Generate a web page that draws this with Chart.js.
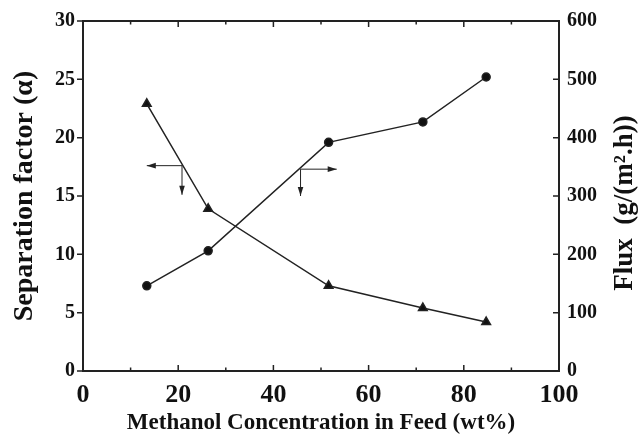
<!DOCTYPE html>
<html>
<head>
<meta charset="utf-8">
<script src="https://cdn.jsdelivr.net/npm/chart.js@4.4.0/dist/chart.umd.min.js"></script>
<style>
  html, body { margin: 0; padding: 0; background: #fff; }
  #wrap { width: 638px; height: 435px; }
</style>
</head>
<body>
<div id="wrap"><canvas id="chart"></canvas></div>
<script>
// methanol wt% in feed
const concentration = [13.4, 26.3, 51.6, 71.4, 84.7];
// separation factor (left axis)
const separation = [22.9, 13.9, 7.3, 5.4, 4.2];
// flux g/(m2.h) (right axis)
const flux = [146, 206, 392, 427, 504];

const xTicks = [0, 20, 40, 60, 80, 100];
const fontFam = '"Liberation Serif", "Times New Roman", serif';

// inward/outward ticks, frame, arrows and right title
const framePlugin = {
  id: 'frame',
  afterDraw(chart) {
    const ctx = chart.ctx;
    const a = chart.chartArea;
    const x = chart.scales.x, y = chart.scales.y, y1 = chart.scales.y1;
    ctx.save();
    ctx.strokeStyle = '#222';
    ctx.lineWidth = 2;
    ctx.strokeRect(a.left, a.top, a.right - a.left, a.bottom - a.top);

    ctx.lineWidth = 1.5;
    ctx.beginPath();
    for (let v = 0; v <= 100; v += 10) {
      const px = x.getPixelForValue(v);
      const len = v % 20 === 0 ? 6 : 3.5;
      ctx.moveTo(px, a.bottom); ctx.lineTo(px, a.bottom - len);
      ctx.moveTo(px, a.top); ctx.lineTo(px, a.top + len);
    }
    y.ticks.forEach(t => {
      const py = y.getPixelForValue(t.value);
      ctx.moveTo(a.left, py); ctx.lineTo(a.left - 6, py);
    });
    y1.ticks.forEach(t => {
      const py = y1.getPixelForValue(t.value);
      ctx.moveTo(a.right, py); ctx.lineTo(a.right - 6, py);
    });
    ctx.stroke();

    // arrows pointing to the axis of each curve
    ctx.lineWidth = 1;
    ctx.fillStyle = '#222';
    const head = (fx, fy, tx, ty) => {
      const ang = Math.atan2(ty - fy, tx - fx);
      ctx.beginPath();
      ctx.moveTo(fx, fy); ctx.lineTo(tx, ty); ctx.stroke();
      ctx.beginPath();
      ctx.moveTo(tx, ty);
      ctx.lineTo(tx - 9 * Math.cos(ang) + 2.8 * Math.sin(ang), ty - 9 * Math.sin(ang) - 2.8 * Math.cos(ang));
      ctx.lineTo(tx - 9 * Math.cos(ang) - 2.8 * Math.sin(ang), ty - 9 * Math.sin(ang) + 2.8 * Math.cos(ang));
      ctx.closePath(); ctx.fill();
    };
    const X = v => x.getPixelForValue(v), Y = v => y.getPixelForValue(v);
    head(X(20.8), Y(17.6), X(13.4), Y(17.6));
    head(X(20.8), Y(17.6), X(20.8), Y(15.1));
    head(X(45.7), Y(17.3), X(53.3), Y(17.3));
    head(X(45.7), Y(17.3), X(45.7), Y(15.0));

    // right axis title, reading upward
    ctx.translate(625, (a.top + a.bottom) / 2 + 7);
    ctx.rotate(-Math.PI / 2);
    ctx.font = 'bold 27px ' + fontFam;
    ctx.fillStyle = '#111';
    ctx.textAlign = 'center';
    ctx.textBaseline = 'middle';
    ctx.fillText('Flux  (g/(m\u00B2.h))', 0, 0);
    ctx.restore();
  }
};

new Chart(document.getElementById('chart'), {
  type: 'line',
  data: {
    datasets: [
      {
        label: 'Separation factor',
        data: concentration.map((c, i) => ({ x: c, y: separation[i] })),
        yAxisID: 'y',
        borderColor: '#222',
        backgroundColor: '#111',
        borderWidth: 1.5,
        pointStyle: 'triangle',
        pointRadius: 5,
        tension: 0
      },
      {
        label: 'Flux',
        data: concentration.map((c, i) => ({ x: c, y: flux[i] })),
        yAxisID: 'y1',
        borderColor: '#222',
        backgroundColor: '#111',
        borderWidth: 1.5,
        pointStyle: 'circle',
        pointRadius: 4,
        tension: 0
      }
    ]
  },
  options: {
    responsive: true,
    maintainAspectRatio: false,
    animation: false,
    layout: { padding: { top: 21, left: 0, right: 0, bottom: 0 } },
    plugins: { legend: { display: false }, tooltip: { enabled: false } },
    scales: {
      x: {
        type: 'linear',
        min: 0, max: 100,
        afterBuildTicks: s => { s.ticks = xTicks.map(v => ({ value: v })); },
        afterFit: s => { s.height = 64; },
        grid: { display: false, drawTicks: false },
        border: { display: false },
        ticks: { color: '#111', padding: 9, font: { family: fontFam, size: 26, weight: 'bold' } },
        title: {
          display: true,
          text: 'Methanol Concentration in Feed (wt%)',
          color: '#111',
          padding: { top: 0, bottom: 0 },
          font: { family: fontFam, size: 23, weight: 'bold', lineHeight: 1 }
        }
      },
      y: {
        position: 'left',
        min: 0, max: 30,
        afterFit: s => { s.width = 83; },
        grid: { display: false, drawTicks: false },
        border: { display: false },
        ticks: { stepSize: 5, color: '#111', padding: 8, font: { family: fontFam, size: 20, weight: 'bold' } },
        title: {
          display: true,
          text: 'Separation factor (\u03B1)',
          color: '#111',
          padding: { top: 8, bottom: 0 },
          font: { family: fontFam, size: 28, weight: 'bold' }
        }
      },
      y1: {
        position: 'right',
        min: 0, max: 600,
        afterFit: s => { s.width = 79; },
        grid: { display: false, drawTicks: false },
        border: { display: false },
        ticks: { stepSize: 100, color: '#111', padding: 8, font: { family: fontFam, size: 20, weight: 'bold' } }
      }
    }
  },
  plugins: [framePlugin]
});
</script>
</body>
</html>
